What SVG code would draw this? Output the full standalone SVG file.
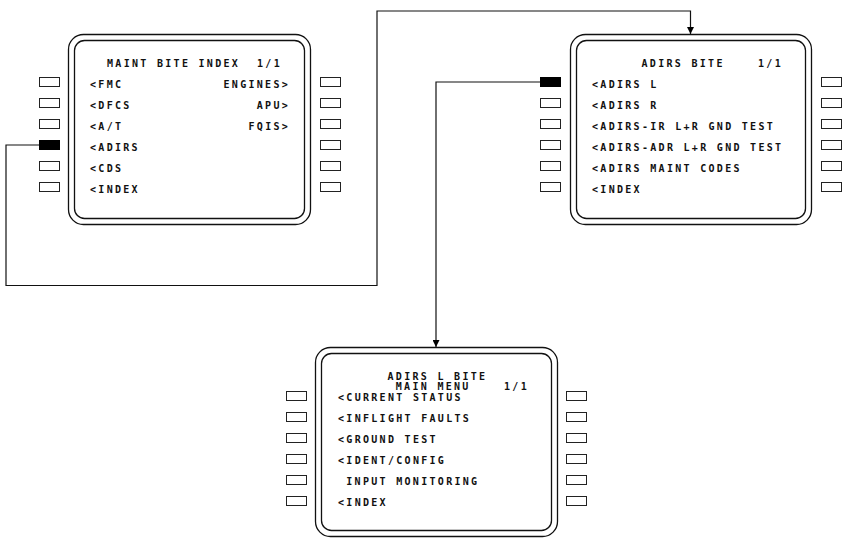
<svg xmlns="http://www.w3.org/2000/svg" width="847" height="544" viewBox="0 0 847 544">
<style>
  .frame { fill: none; stroke: #111; stroke-width: 1.3; }
  .btn { fill: #fff; stroke: #222; stroke-width: 1; }
  .btn.on { fill: #000; stroke: #000; }
  .t { font-family: "DejaVu Sans Mono", "Liberation Mono", monospace; font-weight: bold; font-size: 10px; letter-spacing: 2.3px; fill: #111; }
  .conn { fill: none; stroke: #111; stroke-width: 1.2; }
</style>
<defs>
  <marker id="arr" viewBox="0 0 7 7" refX="7" refY="3.5" markerWidth="7" markerHeight="7" orient="auto" markerUnits="userSpaceOnUse">
    <path d="M0,0 L7,3.5 L0,7 z" fill="#000"/>
  </marker>
</defs>

<g id="connectors">
  <path class="conn" d="M39 145 H6 V285.5 H377 V11 H690.5 V34" marker-end="url(#arr)"/>
  <path class="conn" d="M540.5 82 H436 V347" marker-end="url(#arr)"/>
</g>

<g id="maint-bite-index">
  <rect class="frame" x="68.5" y="34.5" width="242" height="190" rx="15"/>
  <rect class="frame" x="74.5" y="40.5" width="230" height="178" rx="10"/>
  <rect class="btn" x="39.5" y="77.5" width="20" height="9"/>
  <rect class="btn" x="39.5" y="98.5" width="20" height="9"/>
  <rect class="btn" x="39.5" y="119.5" width="20" height="9"/>
  <rect class="btn on" x="39.5" y="140.5" width="20" height="9"/>
  <rect class="btn" x="39.5" y="161.5" width="20" height="9"/>
  <rect class="btn" x="39.5" y="182.5" width="20" height="9"/>
  <rect class="btn" x="320.5" y="77.5" width="20" height="9"/>
  <rect class="btn" x="320.5" y="98.5" width="20" height="9"/>
  <rect class="btn" x="320.5" y="119.5" width="20" height="9"/>
  <rect class="btn" x="320.5" y="140.5" width="20" height="9"/>
  <rect class="btn" x="320.5" y="161.5" width="20" height="9"/>
  <rect class="btn" x="320.5" y="182.5" width="20" height="9"/>
  <text class="t" x="107" y="67">MAINT BITE INDEX</text>
  <text class="t" x="257" y="67">1/1</text>
  <text class="t" x="90" y="87.5">&lt;FMC</text>
  <text class="t" x="90" y="108.5">&lt;DFCS</text>
  <text class="t" x="90" y="129.5">&lt;A/T</text>
  <text class="t" x="90" y="150.5">&lt;ADIRS</text>
  <text class="t" x="90" y="171.5">&lt;CDS</text>
  <text class="t" x="90" y="192.5">&lt;INDEX</text>
  <text class="t" x="223.5" y="87.5">ENGINES&gt;</text>
  <text class="t" x="256.8" y="108.5">APU&gt;</text>
  <text class="t" x="248.5" y="129.5">FQIS&gt;</text>
</g>

<g id="adirs-bite">
  <rect class="frame" x="570.5" y="34.5" width="241" height="190" rx="15"/>
  <rect class="frame" x="576.5" y="40.5" width="229" height="178" rx="10"/>
  <rect class="btn on" x="540.5" y="77.5" width="20" height="9"/>
  <rect class="btn" x="540.5" y="98.5" width="20" height="9"/>
  <rect class="btn" x="540.5" y="119.5" width="20" height="9"/>
  <rect class="btn" x="540.5" y="140.5" width="20" height="9"/>
  <rect class="btn" x="540.5" y="161.5" width="20" height="9"/>
  <rect class="btn" x="540.5" y="182.5" width="20" height="9"/>
  <rect class="btn" x="821.5" y="77.5" width="20" height="9"/>
  <rect class="btn" x="821.5" y="98.5" width="20" height="9"/>
  <rect class="btn" x="821.5" y="119.5" width="20" height="9"/>
  <rect class="btn" x="821.5" y="140.5" width="20" height="9"/>
  <rect class="btn" x="821.5" y="161.5" width="20" height="9"/>
  <rect class="btn" x="821.5" y="182.5" width="20" height="9"/>
  <text class="t" x="641.5" y="67">ADIRS BITE</text>
  <text class="t" x="758" y="67">1/1</text>
  <text class="t" x="592" y="87.5">&lt;ADIRS L</text>
  <text class="t" x="592" y="108.5">&lt;ADIRS R</text>
  <text class="t" x="592" y="129.5">&lt;ADIRS-IR L+R GND TEST</text>
  <text class="t" x="592" y="150.5">&lt;ADIRS-ADR L+R GND TEST</text>
  <text class="t" x="592" y="171.5">&lt;ADIRS MAINT CODES</text>
  <text class="t" x="592" y="192.5">&lt;INDEX</text>
</g>

<g id="adirs-l-bite">
  <rect class="frame" x="315.5" y="347.5" width="242" height="189" rx="15"/>
  <rect class="frame" x="321.5" y="353.5" width="230" height="177" rx="10"/>
  <rect class="btn" x="286.5" y="391.5" width="20" height="9"/>
  <rect class="btn" x="286.5" y="412.5" width="20" height="9"/>
  <rect class="btn" x="286.5" y="433.5" width="20" height="9"/>
  <rect class="btn" x="286.5" y="454.5" width="20" height="9"/>
  <rect class="btn" x="286.5" y="475.5" width="20" height="9"/>
  <rect class="btn" x="286.5" y="496.5" width="20" height="9"/>
  <rect class="btn" x="566.5" y="391.5" width="20" height="9"/>
  <rect class="btn" x="566.5" y="412.5" width="20" height="9"/>
  <rect class="btn" x="566.5" y="433.5" width="20" height="9"/>
  <rect class="btn" x="566.5" y="454.5" width="20" height="9"/>
  <rect class="btn" x="566.5" y="475.5" width="20" height="9"/>
  <rect class="btn" x="566.5" y="496.5" width="20" height="9"/>
  <text class="t" x="387.5" y="379.5">ADIRS L BITE</text>
  <text class="t" x="395.8" y="389.5">MAIN MENU</text>
  <text class="t" x="504" y="389.5">1/1</text>
  <text class="t" x="338" y="400.8">&lt;CURRENT STATUS</text>
  <text class="t" x="338" y="421.8">&lt;INFLIGHT FAULTS</text>
  <text class="t" x="338" y="442.8">&lt;GROUND TEST</text>
  <text class="t" x="338" y="463.8">&lt;IDENT/CONFIG</text>
  <text class="t" x="346.3" y="484.8">INPUT MONITORING</text>
  <text class="t" x="338" y="505.8">&lt;INDEX</text>
</g>
</svg>
